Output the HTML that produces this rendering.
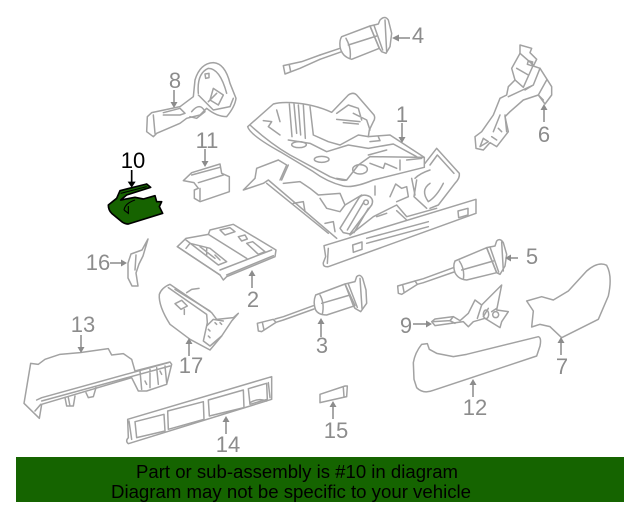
<!DOCTYPE html>
<html><head><meta charset="utf-8"><title>Seat parts diagram</title>
<style>
html,body{margin:0;padding:0;background:#fff;width:640px;height:512px;overflow:hidden}
svg{display:block}
text{font-family:"Liberation Sans",sans-serif}
.p{fill:none;stroke:#a2a2a2;stroke-width:4.5;stroke-linejoin:round;stroke-linecap:round}
.t{fill:#fff;stroke:#a2a2a2;stroke-width:4.5;stroke-linejoin:round;stroke-linecap:round}
.n{fill:#8c8c8c;font-size:22px;text-anchor:middle}
.a{stroke:#8c8c8c;stroke-width:1.5;fill:none}
.h{fill:#8c8c8c}
</style></head><body>
<svg width="640" height="512" viewBox="0 0 640 512" xmlns="http://www.w3.org/2000/svg">
<defs><filter id="b" x="-5%" y="-5%" width="110%" height="110%"><feGaussianBlur stdDeviation="0.3"/></filter></defs>
<rect width="640" height="512" fill="#fff"/>
<g filter="url(#b)">

<!-- Part 1 -->
<g transform="translate(230 80) scale(.33333)">
<path class="t" d="M305 97L355 45Q370 35 380 45L432 105Q437 115 430 125L418 150L415 170L480 165L583 232V262L430 300Q370 325 340 318Q290 305 250 275L150 215Q60 165 53 140L130 72Q150 66 185 68Q250 72 305 97Z"/>
<path class="p" d="M585 250L620 205L688 280Q690 295 675 310L625 375L600 385"/>
<path class="p" d="M600 255L622 225L672 280M555 295Q570 280 600 270M560 300L552 350L590 385M600 310Q570 330 595 365Q620 350 640 310"/>
<path class="p" d="M145 240L80 265L75 295L40 330L100 310L115 300L320 475"/>
<path class="p" d="M110 310L295 460M145 240L170 255L150 300M175 255L155 300M190 370L220 365L225 395M285 430L310 425L315 455"/>
<path class="p" d="M160 310L210 305L240 325L265 345L330 340L345 375L395 345M270 355L290 385L330 395L345 375"/>
<path class="p" d="M435 318V345M480 350L497 312L515 325L530 320L535 350L500 365M545 295L555 345"/>
<path class="t" d="M330 445L388 352Q400 340 420 350Q432 360 425 375L360 462L340 458Z"/>
<path class="p" d="M352 450L402 365M372 458L415 385"/>
<circle class="p" cx="408" cy="367" r="7"/>
<path class="p" d="M360 465L430 410L500 375L530 410L620 385M500 392L530 420M440 410L470 400"/>
<path class="t" d="M282 497L738 358V400L295 560Q278 562 280 548L287 530Z"/>
<path class="p" d="M410 475L595 425M410 490L595 440M295 505L292 550"/>
<path class="p" d="M368 495L396 486V508L370 517ZM684 393L714 385V405L686 413Z"/>
<path class="p" d="M60 135Q120 190 180 225L300 290Q340 305 350 300L385 255L420 230L580 232M100 122L125 125L115 140L150 165M140 90L150 125M178 72L186 170M192 72L200 160M205 75L212 165M220 75L226 175M240 80L250 165L295 185L330 195L385 165L415 170"/>
<path class="p" d="M175 180L240 190L290 215L355 195L415 205L490 192L560 230M320 118L390 125M340 128L385 132M415 225L470 210M370 100L410 120L420 150M320 100L355 75L385 85L395 120"/>
<ellipse class="p" cx="207" cy="194" rx="22" ry="9"/>
<ellipse class="p" cx="275" cy="238" rx="22" ry="9"/>
<ellipse class="p" cx="390" cy="268" rx="22" ry="14"/>
<path class="p" d="M420 250L460 265L465 250L500 265M510 240V270M530 240L575 235M420 185L450 182L445 170M320 295L350 300"/>
</g>

<!-- Part 8, 11 -->
<g transform="scale(.33333)">
<path class="p" d="M442 350L455 338L540 320L580 290L585 240Q600 190 640 188Q675 190 690 250L708 295Q705 320 680 350Q650 350 620 325L600 345L560 355L540 370L470 400L460 410L440 395Z"/>
<path class="p" d="M595 280Q590 220 625 205Q660 205 680 280M595 285L640 330L690 320L700 295M640 265L670 285L655 315L630 300ZM650 280L625 305M615 222L627 220V233L617 235ZM490 338L540 325L555 340L540 345L490 345M575 335Q600 305 615 335L590 355L570 350M460 345L465 400"/>
<path class="p" d="M550 542L575 518L660 492L665 520L688 530V575L600 605L583 595V570L595 565L582 548ZM575 525L660 502M595 548L670 525M600 565V600"/>
</g>

<!-- Part 2 -->
<g transform="translate(170 215) scale(.33333)">
<path class="p" d="M22 95L48 70L115 58L120 45L190 28L318 105L315 125L170 185L160 195L150 180Z"/>
<path class="p" d="M22 95L150 180M150 165L305 105M170 180L310 122M48 75L145 150L170 140L120 100L60 85L48 100M115 58L230 130M150 45L180 38L195 50L165 60ZM205 65L225 60L232 72L215 78ZM230 85L248 80L285 110L265 118ZM90 95L135 130M110 100V120M135 120L150 135"/>
</g>

<!-- Part 3 -->
<g transform="translate(170 215) scale(.33333)">
<path class="p" d="M437 240L525 207L555 272L470 300Q445 300 437 285Q428 262 437 240Z"/>
<path class="p" d="M525 207L555 200L560 185Q570 175 578 190L588 225L590 265L572 290L555 280L550 272Z"/>
<path class="p" d="M535 207L562 277M450 240Q464 265 457 298M455 265L540 240M570 190L576 280"/>
<path class="p" d="M430 272L340 305L315 312M432 282L340 315L318 322"/>
<path class="p" d="M262 325L310 313L318 322L275 350L265 348ZM277 322L282 345"/>
</g>

<!-- Part 4 -->
<g transform="translate(320 0) scale(.33333)">
<path class="p" d="M65 110L150 78L178 145L95 178Q65 170 60 140Q58 120 65 110Z"/>
<path class="p" d="M150 78L175 72L180 60Q195 45 205 60L215 100L210 140L198 160L185 155L178 145Z"/>
<path class="p" d="M162 76L188 150M78 115Q95 145 90 176M85 135L170 108M195 60L200 155"/>
<path class="p" d="M60 145L0 165M65 155L0 178"/>
</g>
<g transform="scale(.33333)">
<path class="p" d="M850 197L905 185L960 165M850 197L855 222L900 205L960 178M868 195L872 215"/>
</g>

<!-- Part 6 -->
<g transform="translate(320 0) scale(.33333)">
<path class="p" d="M600 135L635 145L630 158L650 178L640 198L660 205L695 260L695 285L675 312L655 285L610 300L570 335L555 350L565 395L530 440L510 428L490 450L468 445L465 410L485 395L520 345L540 295L560 285L565 260L585 240L575 205L600 160Z"/>
<path class="p" d="M600 160L640 195L610 262L585 240M590 205L625 225M625 182L638 186L635 197L622 193ZM660 205L640 255L615 270M680 240L655 285L670 300M565 290L640 255M540 345L520 395M490 415L505 425L480 440ZM515 410L530 420M535 385L545 395M555 345L560 395"/>
</g>

<!-- Part 5 -->
<g transform="translate(320 256) scale(.33333)">
<path class="p" d="M405 15L500 -25L530 50L440 72Q415 70 405 50Q398 30 405 15Z"/>
<path class="p" d="M500 -25L525 -30L530 -45Q540 -55 550 -40L560 -5L555 30L540 55L530 50Z"/>
<path class="p" d="M510 -27L536 48M418 15Q435 40 430 70M425 42L520 15M545 -42L550 45"/>
<path class="p" d="M400 35L310 68L285 75M402 48L310 80L292 85"/>
<path class="p" d="M233 90L285 75L292 85L245 115L235 112ZM248 87L252 108"/>
</g>

<!-- Part 9 -->
<g transform="translate(390 280) scale(.33333)">
<path class="p" d="M125 125L135 117L190 110L210 122L235 100L255 60L275 75L335 15L320 90L355 95L335 125L330 143L285 115L250 125L235 140L220 125L135 137Z"/>
<path class="p" d="M130 125L180 122L190 110M180 122L195 130M275 75L262 115M295 85L280 110M320 85L305 95"/>
<ellipse class="p" cx="288" cy="103" rx="8" ry="13"/>
<circle class="p" cx="317" cy="104" r="9"/>
</g>

<!-- Part 7, 12, 15 -->
<g transform="translate(320 256) scale(.33333)">
<path class="p" d="M620 135L665 122L700 132L745 105L800 45Q835 15 860 28Q878 60 865 120L835 190L725 245L690 212L660 205L635 213L640 165Z"/>
<path class="p" d="M305 265L322 263L328 280L350 292L400 302L440 295L655 242Q665 245 660 270L650 300L340 403Q310 415 290 395L282 370L280 320Q285 290 305 265Z"/>
<path class="p" d="M0 415L75 390H82L80 422L0 440ZM70 395L72 422"/>
</g>

<!-- Part 16 -->
<path class="p" style="stroke-width:1.5" d="M148 239L142 250L131 254L128 263L128 278L132 286L138 286L136 273L139 264L143 256Z M136 255L135 270"/>

<!-- Part 17, 13, 14 -->
<g transform="translate(0 256) scale(.33333)">
<path class="p" d="M510 85L635 170L650 190L700 185L715 172L695 195L665 240L630 282L570 250L510 205Q475 150 478 115Q485 95 510 85Z"/>
<path class="p" d="M505 95L620 175L622 200L610 255L630 270L665 240M525 100L630 165M560 110L575 100L597 97M525 143L545 133L562 150L543 160ZM553 160V175M620 210L640 190L670 195M625 220L630 225M645 200L650 205M660 200L665 205M625 240L630 245"/>
<path class="p" d="M72 442L92 322L115 325L135 310L180 295L240 290L325 278L335 297L370 293L395 310L405 345L510 318L515 325L500 385L440 405L415 405L395 365L125 445L118 487Z"/>
<path class="p" d="M110 432L125 425L505 320M125 435L510 330M122 445L105 465M195 425L200 450H220L225 420M205 425L210 450M258 410L265 425L280 422L288 395M420 345L425 400M450 340V395M470 335L475 385M495 330L500 380M435 375L440 385M480 345L485 355"/>
<path class="p" d="M383 490L815 362V430L385 563Q375 555 385 545Z"/>
<path class="p" d="M405 497L492 475L495 525L410 545ZM503 465L610 437L612 490L505 520ZM625 432L730 402L732 455L628 480ZM745 398L800 382L802 430L750 445ZM387 495L395 550M805 380L810 425M750 440Q775 425 800 435"/>
</g>

<!-- Part 10 green -->
<g transform="scale(.33333)">
<path d="M325 615L350 595L360 572L440 552L452 562L380 585L362 600L405 592L430 597L465 587L470 605L485 605L478 620L488 640L385 672Q375 672 365 665L335 640Q325 630 325 615Z" fill="#156400" stroke="#000" stroke-width="5" stroke-linejoin="round"/>
<path d="M372 630Q375 610 405 600M372 630L385 640V618" fill="none" stroke="#000" stroke-width="3.500"/>
<path d="M362 580L440 560" fill="none" stroke="#000" stroke-width="3"/>
<path d="M395 510V550" stroke="#000" stroke-width="5"/>
<path d="M383 545H407L395 563Z" fill="#000"/>
</g>

<!-- Arrows -->
<path class="a" d="M174 90V103M205 149V162M410 38H398M544 122V109M402 123V138M518 258H510M252 288V275M321 337V323M110 263H122M189 356V343M81 335V348M226 434V421M333 419V406M473 397V384M561 355V342M413 324H427"/>
<path class="h" d="M170.500 102L177.500 102L174 108ZM201.500 161H208.500L205 167ZM399 34.500V41.500L392 38ZM540.500 110H547.500L544 104ZM398.500 137H405.500L402 143ZM511 254.500V261.500L505 258ZM248.500 276H255.500L252 270ZM317.500 324H324.500L321 318ZM121 259.500V266.500L127 263ZM185.500 344H192.500L189 338ZM77.500 347H84.500L81 353ZM222.500 422H229.500L226 416ZM329.500 407H336.500L333 401ZM469.500 385H476.500L473 379ZM557.500 343H564.500L561 337ZM426 320.500V327.500L432 324Z"/>
</g>

<!-- Labels -->
<text class="n" x="175" y="88">8</text>
<text class="n" x="207" y="148">11</text>
<text class="n" x="133" y="168" style="fill:#000">10</text>
<text class="n" x="418" y="43">4</text>
<text class="n" x="544" y="142">6</text>
<text class="n" x="402" y="122">1</text>
<text class="n" x="532" y="264">5</text>
<text class="n" x="253" y="307">2</text>
<text class="n" x="322" y="353">3</text>
<text class="n" x="98" y="270">16</text>
<text class="n" x="191" y="373">17</text>
<text class="n" x="83" y="332">13</text>
<text class="n" x="228" y="452">14</text>
<text class="n" x="336" y="438">15</text>
<text class="n" x="475" y="415">12</text>
<text class="n" x="562" y="374">7</text>
<text class="n" x="406" y="333">9</text>

<!-- Banner -->
<rect x="16" y="457" width="608" height="45" fill="#156400"/>
<text x="136" y="478" font-size="18" fill="#000" textLength="322" lengthAdjust="spacingAndGlyphs">Part or sub-assembly is #10 in diagram</text>
<text x="111" y="498" font-size="18" fill="#000" textLength="360" lengthAdjust="spacingAndGlyphs">Diagram may not be specific to your vehicle</text>
</svg>
</body></html>
